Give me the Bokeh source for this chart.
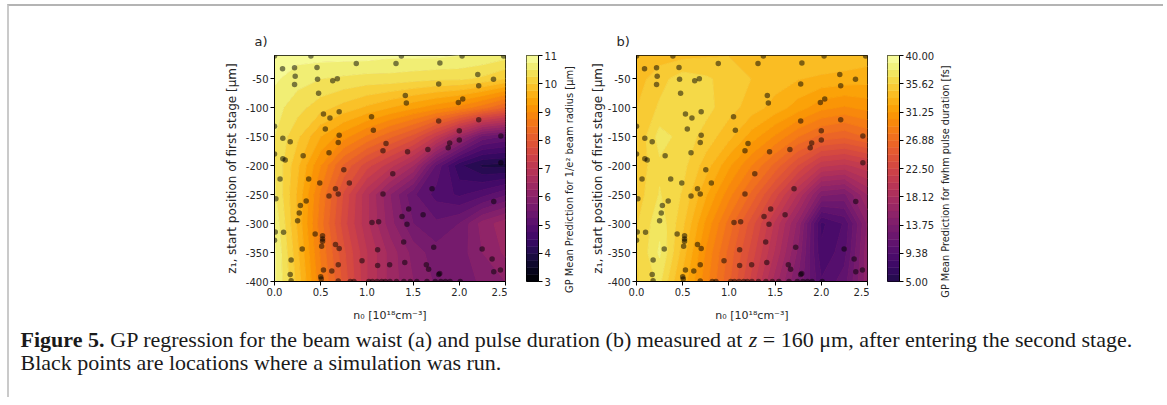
import math
import numpy as np
from bokeh.plotting import figure
from bokeh.layouts import row, column
from bokeh.models import FixedTicker, Label, Range1d
from bokeh.palettes import Inferno256
from bokeh.embed import file_html
from bokeh.resources import INLINE

# ---------------- data ----------------
grid_x = [0.0, 0.25, 0.5, 0.75, 1.0, 1.25, 1.5, 1.75, 2.0, 2.25, 2.5]
grid_y = [-400, -350, -300, -250, -200, -150, -100, -50, -10]

# GP mean of 1/e^2 beam radius [um], rows from z1=-400 (bottom) to -10 (top)
waist_um = [
    [10.8, 9.9, 8.8, 7.9, 7.0, 6.4, 6.0, 5.7, 5.6, 5.8, 6.0],
    [10.8, 9.8, 8.7, 7.8, 7.0, 6.4, 5.9, 5.6, 5.6, 6.0, 6.3],
    [10.7, 9.7, 8.6, 7.6, 6.8, 6.1, 5.5, 5.3, 5.5, 6.1, 6.4],
    [10.55, 9.7, 8.7, 7.7, 6.8, 6.0, 5.3, 4.9, 4.7, 4.9, 5.2],
    [10.5, 9.8, 9.0, 8.2, 7.6, 7.1, 6.5, 5.2, 4.3, 3.95, 3.9],
    [10.5, 10.05, 9.5, 9.1, 8.7, 8.3, 7.9, 7.2, 6.3, 5.4, 5.2],
    [10.6, 10.35, 10.1, 9.9, 9.7, 9.5, 9.3, 9.1, 8.9, 8.6, 8.2],
    [10.8, 10.6, 10.5, 10.45, 10.4, 10.4, 10.35, 10.3, 10.3, 10.2, 10.0],
    [10.9, 10.85, 10.85, 10.85, 10.85, 10.8, 10.8, 10.8, 10.75, 10.7, 10.6],
]

# GP mean of fwhm pulse duration [fs]
pulse_fs = [
    [35.5, 37.0, 33.0, 29.5, 26.0, 22.0, 17.5, 13.5, 9.5, 11.0, 15.5],
    [35.5, 38.0, 34.0, 30.0, 26.5, 23.0, 19.0, 14.5, 8.5, 10.0, 15.5],
    [35.5, 37.5, 34.8, 31.0, 27.5, 24.0, 20.0, 15.5, 8.0, 9.5, 15.0],
    [35.0, 36.8, 35.5, 32.5, 29.5, 26.5, 23.0, 19.0, 14.0, 13.5, 17.0],
    [34.8, 36.5, 36.0, 34.0, 31.5, 29.0, 26.5, 23.5, 20.5, 20.0, 21.0],
    [34.5, 37.2, 36.3, 35.2, 33.8, 31.8, 30.0, 28.0, 26.5, 26.0, 27.0],
    [34.5, 35.8, 36.5, 36.0, 35.0, 34.0, 33.0, 31.8, 30.5, 30.0, 30.5],
    [34.0, 35.2, 36.2, 35.8, 35.2, 34.5, 34.0, 33.5, 33.2, 33.0, 32.8],
    [33.5, 34.0, 34.2, 34.4, 34.5, 34.4, 34.2, 34.3, 34.5, 34.3, 34.0],
]

# simulation locations (n0 [1e18 cm^-3], z1 [um])
sim_x = [
    0.0, 0.394, 1.373, 2.03, 2.48,
    0.087, 0.217, 0.46, 0.885, 1.315, 1.79,
    0.224, 0.466, 0.63, 0.68, 0.217, 0.477,
    1.777, 2.2, 2.21, 2.37, 1.416, 1.427, 2.037, 1.99,
    0.53, 0.60, 0.70, 1.05, 1.07, 1.777, 2.21, 2.0,
    0.0, 0.55, 0.70, 0.69, 0.09, 0.17, 0.59, 0.31,
    1.207, 1.174, 1.44, 1.66, 1.896, 1.88, 2.0, 2.45, 2.45,
    0.0, 0.09, 0.116, 0.75, 0.06, 0.37, 0.49, 0.81, 1.28, 1.705, 0.66, 0.69, 0.59, 1.174, 0.015,
    0.343, 0.28, 0.268, 0.25, 0.008, 0.098, 0.0, 0.44, 0.52, 0.52, 0.52, 0.30, 0.51, 0.66, 0.70,
    0.18, 0.69, 0.53, 0.62, 0.17, 0.50, 0.506, 0.18, 0.69,
    0.947, 1.055, 1.127, 2.373, 1.452, 1.38, 1.608, 1.434, 1.398, 1.116, 1.723,
    2.247, 2.355, 1.41, 1.246, 1.116, 1.643, 1.668, 1.788, 1.777, 2.373, 2.445,
    0.82, 0.86, 1.02, 1.06, 1.11, 1.16, 1.20, 1.25, 1.32, 1.40, 1.47, 1.54, 1.65,
    1.74, 1.80, 1.85, 1.90, 2.01,
]
sim_y = [
    -11, -11, -11, -11, -11,
    -33, -31, -30.5, -24, -24, -23,
    -46, -51, -53.5, -50, -60, -75,
    -59, -43, -62, -51, -79, -92, -85, -91,
    -111, -118, -107, -115.5, -139, -123, -121, -140,
    -132, -137, -147.5, -160, -153, -159, -178, -183,
    -162, -174.5, -176, -172, -161, -169, -156, -149, -195,
    -180, -188, -190.5, -207, -223, -223, -230, -230, -214, -240, -240, -249, -252.5, -249, -257,
    -261, -269, -282, -295, -314.5, -315, -329, -318, -321, -326.5, -330.5, -344, -339, -336, -343,
    -363, -371, -380, -382, -388, -392, -395.5, -398.5, -399,
    -364, -298, -297, -262, -275, -288, -285, -301, -332, -345, -341,
    -344, -361, -367, -371, -372.5, -371, -379, -386, -388, -383, -380,
    -400, -400, -400, -400, -400, -400, -400, -400, -400, -400, -400, -400, -400,
    -400, -400, -400, -400, -400,
]

x_ticks = [0, 0.5, 1, 1.5, 2, 2.5]
x_tick_labels = ["0.0", "0.5", "1.0", "1.5", "2.0", "2.5"]
y_ticks = [-400, -350, -300, -250, -200, -150, -100, -50]
y_tick_labels = ["-400", "-350", "-300", "-250", "-200", "-150", "-100", "-50"]
cb_a_ticks = [3, 4, 5, 6, 7, 8, 9, 10, 11]
cb_a_labels = ["3", "4", "5", "6", "7", "8", "9", "10", "11"]
cb_b_ticks = [5, 9.375, 13.75, 18.125, 22.5, 26.875, 31.25, 35.625, 40]
cb_b_labels = ["5.00", "9.38", "13.75", "18.12", "22.50", "26.88", "31.25", "35.62", "40.00"]

# ---------------- styling ----------------
FONT = "DejaVu Sans"
TXT = "#262626"
FH = 226          # frame height
FW = 231          # frame width
BT, BB = 49, 45   # top / bottom borders

levels_a = np.linspace(3, 11, 33)
levels_b = np.linspace(5, 40, 33)


def band_colors(levels, vmin, vmax):
    mids = 0.5 * (levels[:-1] + levels[1:])
    return [Inferno256[int(round((m - vmin) / (vmax - vmin) * 255))] for m in mids]


colors_a = band_colors(levels_a, 3, 11)
colors_b = band_colors(levels_b, 0, 40)


def style_axis(ax, label_standoff=0, label_size="12px"):
    ax.axis_line_color = "black"
    ax.axis_line_width = 1
    ax.major_tick_line_color = "black"
    ax.major_tick_out = 4
    ax.major_tick_in = 0
    ax.minor_tick_line_color = None
    ax.major_label_text_font = FONT
    ax.major_label_text_font_size = "10px"
    ax.major_label_text_color = TXT
    ax.major_label_standoff = 2
    ax.axis_label_text_font = FONT
    ax.axis_label_text_font_size = label_size
    ax.axis_label_text_font_style = "normal"
    ax.axis_label_text_color = TXT
    ax.axis_label_standoff = label_standoff


def make_panel(title, field, levels, colors, left_border, ylab_standoff):
    p = figure(frame_width=FW, frame_height=FH,
               x_range=Range1d(0, 2.5), y_range=Range1d(-400, -10),
               output_backend="svg", toolbar_location=None,
               min_border_left=left_border, min_border_right=2,
               min_border_top=BT, min_border_bottom=BB)
    line_cols = [colors[min(i, len(colors) - 1)] for i in range(len(levels))]
    p.contour(x=grid_x, y=grid_y, z=np.array(field), levels=levels,
              fill_color=colors, line_color=line_cols, line_width=1)
    p.scatter(sim_x, sim_y, size=5.5, fill_color="black", fill_alpha=0.5, line_color=None)
    p.grid.visible = False
    p.outline_line_color = "black"
    p.outline_line_width = 1
    p.background_fill_color = colors[len(colors) // 2]
    p.xaxis.ticker = FixedTicker(ticks=x_ticks)
    p.xaxis.major_label_overrides = dict(zip(x_ticks, x_tick_labels))
    p.yaxis.ticker = FixedTicker(ticks=y_ticks)
    p.yaxis.major_label_overrides = dict(zip(y_ticks, y_tick_labels))
    p.xaxis.axis_label = "n\u2080 [10\u00b9\u2078cm\u207b\u00b3]"
    p.yaxis.axis_label = "z\u2081, start position of first stage [\u03bcm]"
    style_axis(p.xaxis[0], 10, "11px")
    style_axis(p.yaxis[0], ylab_standoff, "12px")
    p.title.text = title
    p.title.align = "left"
    p.title.offset = -20
    p.title.standoff = 14
    p.title.text_font = FONT
    p.title.text_font_size = "13px"
    p.title.text_font_style = "normal"
    p.title.text_color = TXT
    return p


def make_cbar(levels, colors, ticks, labels, left_border, right_border):
    c = figure(frame_width=12, frame_height=FH,
               x_range=Range1d(0, 1), y_range=Range1d(levels[0], levels[-1]),
               x_axis_location=None, y_axis_location="right",
               output_backend="svg", toolbar_location=None,
               min_border_left=left_border, min_border_right=right_border,
               min_border_top=BT, min_border_bottom=BB)
    c.quad(left=0, right=1, bottom=levels[:-1], top=levels[1:],
           fill_color=colors, line_color=colors, line_width=0.5)
    c.grid.visible = False
    c.outline_line_color = "black"
    c.outline_line_width = 1
    ax = c.yaxis[0]
    ax.ticker = FixedTicker(ticks=ticks)
    ax.major_label_overrides = dict(zip(ticks, labels))
    style_axis(ax, 0)
    return c


def make_cbar_label(text, strip_width, x_center, y_shift, size):
    # narrow strip holding the rotated colour-bar label inside its frame
    t = figure(frame_width=strip_width, frame_height=FH + 20,
               x_range=Range1d(0, 1), y_range=Range1d(0, 1),
               x_axis_location=None, y_axis_location=None,
               output_backend="svg", toolbar_location=None,
               min_border_left=0, min_border_right=0,
               min_border_top=BT - 10, min_border_bottom=BB - 10)
    t.outline_line_color = None
    t.grid.visible = False
    t.add_layout(Label(x=x_center, y=(FH + 20) / 2 + y_shift, x_units="screen", y_units="screen",
                       text=text, angle=math.pi / 2, text_align="center",
                       text_baseline="middle", text_font=FONT,
                       text_font_size=size, text_color=TXT))
    return t


pa = make_panel("a)", waist_um, levels_a, colors_a, 265, 4)
cba = make_cbar(levels_a, colors_a, cb_a_ticks, cb_a_labels, 19, 23)
la = make_cbar_label("GP Mean Prediction for 1/e\u00b2 beam radius [\u03bcm]", 26, 8, -1, "9.9px")
pb = make_panel("b)", pulse_fs, levels_b, colors_b, 45, 0)
cbb = make_cbar(levels_b, colors_b, cb_b_ticks, cb_b_labels, 18, 39)
lb = make_cbar_label("GP Mean Prediction for fwhm pulse duration [fs]", 30, 7, -3, "9.7px")

# ---------------- caption ----------------
TIMES_W = {' ': 250, '(': 333, ')': 333, ',': 250, '.': 250, '=': 564,
           '0': 500, '1': 500, '6': 500, '5': 500,
           'a': 444, 'b': 500, 'c': 444, 'd': 500, 'e': 444, 'f': 333, 'g': 500,
           'h': 500, 'i': 278, 'l': 278, 'm': 778, 'n': 500, 'o': 500, 'p': 500,
           'r': 333, 's': 389, 't': 278, 'u': 500, 'w': 722, 'z': 444,
           'G': 722, 'P': 556, 'B': 667, '\u03bc': 500}
TIMES_BOLD_W = {'F': 611, 'i': 278, 'g': 500, 'u': 556, 'r': 444, 'e': 444,
                ' ': 250, '5': 500, '.': 250}
CAP_SIZE = 22


def tw(s, table):
    return sum(table.get(ch, 500) for ch in s) * CAP_SIZE / 1000.0


cap_bold = "Figure 5."
cap_1a = "GP regression for the beam waist (a) and pulse duration (b) measured at"
cap_1z = "z"
cap_1b = "= 160 \u03bcm, after entering the second stage."
cap_2 = "Black points are locations where a simulation was run."

cap = figure(width=1154, height=71, x_range=Range1d(0, 1), y_range=Range1d(0, 1),
             x_axis_location=None, y_axis_location=None,
             output_backend="svg", toolbar_location=None,
             min_border=0)
cap.outline_line_color = None
cap.grid.visible = False
x0 = 11
y1, y2 = 58, 35
xa = x0 + tw(cap_bold + " ", TIMES_BOLD_W)
xz = xa + tw(cap_1a + " ", TIMES_W)
xb = xz + (389 + 250) * CAP_SIZE / 1000.0
common = dict(x_units="screen", y_units="screen", text_baseline="middle",
              text_font="Liberation Serif", text_font_size=f"{CAP_SIZE}px", text_color="#1a1a1a")
cap.add_layout(Label(x=x0, y=y1, text=cap_bold, text_font_style="bold", **common))
cap.add_layout(Label(x=xa, y=y1, text=cap_1a, **common))
cap.add_layout(Label(x=xz, y=y1, text=cap_1z, text_font_style="italic", **common))
cap.add_layout(Label(x=xb, y=y1, text=cap_1b, **common))
cap.add_layout(Label(x=x0, y=y2, text=cap_2, **common))

layout = column(row(pa, cba, la, pb, cbb, lb), cap,
                styles={"border-top": "2px solid #b4b4b4", "border-left": "2px solid #cacaca",
                        "margin-top": "4px", "margin-left": "7px"})

open("out.html", "w").write(file_html(layout, INLINE))
